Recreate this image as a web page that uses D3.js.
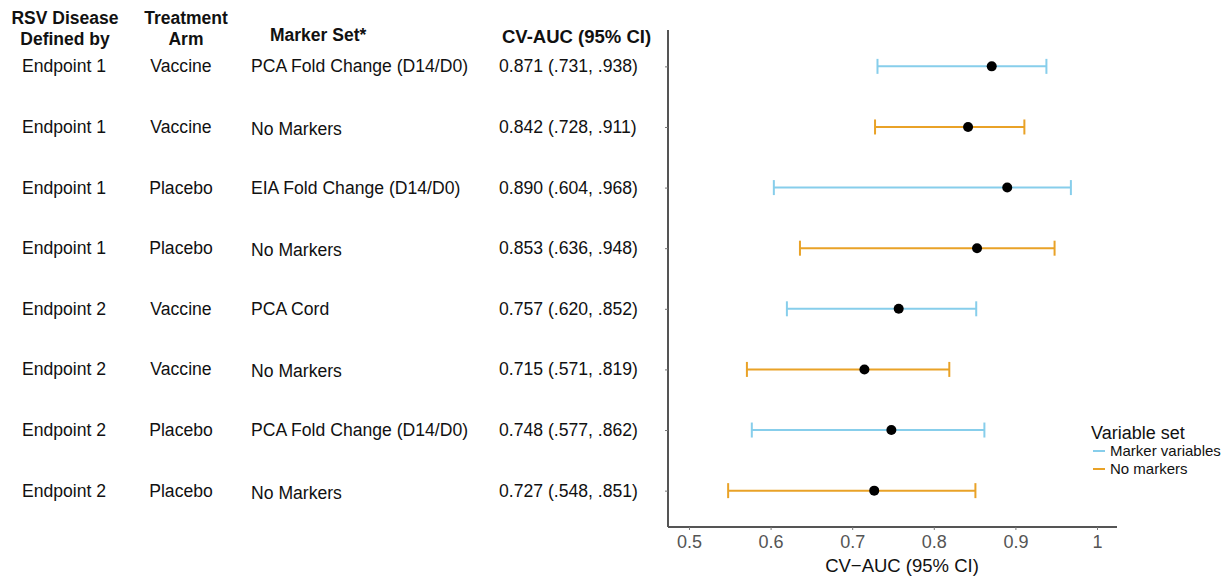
<!DOCTYPE html>
<html>
<head>
<meta charset="utf-8">
<script src="https://cdn.jsdelivr.net/npm/d3@7"></script>
<style>
body{margin:0;background:#fff;}
text{font-family:"Liberation Sans",Arial,sans-serif;}
</style>
</head>
<body>
<svg id="chart" width="1231" height="576"></svg>
<script>
// table columns
var endpoints=["Endpoint 1","Endpoint 1","Endpoint 1","Endpoint 1","Endpoint 2","Endpoint 2","Endpoint 2","Endpoint 2"];
var arms=["Vaccine","Vaccine","Placebo","Placebo","Vaccine","Vaccine","Placebo","Placebo"];
var markerSets=["PCA Fold Change (D14/D0)","No Markers","EIA Fold Change (D14/D0)","No Markers","PCA Cord","No Markers","PCA Fold Change (D14/D0)","No Markers"];
// estimates and CI
var auc=[0.871,0.842,0.890,0.853,0.757,0.715,0.748,0.727];
var lower=[0.731,0.728,0.604,0.636,0.620,0.571,0.577,0.548];
var upper=[0.938,0.911,0.968,0.948,0.852,0.819,0.862,0.851];
var varSet=["Marker variables","No markers","Marker variables","No markers","Marker variables","No markers","Marker variables","No markers"];
var xTicks=[0.5,0.6,0.7,0.8,0.9,1];
var legendKeys=["Marker variables","No markers"];

var colour=d3.scaleOrdinal().domain(legendKeys).range(["#87ceeb","#e9a227"]);

var svg=d3.select("#chart");
var pLeft=668,pRight=1117,pTop=30,pBottom=527;

var x=d3.scaleLinear().domain([0.4743,1.0245]).range([pLeft,pRight]);
var rows=d3.range(auc.length);
var y=d3.scalePoint().domain(rows).range([pTop,pBottom]).padding(0.6);

function fmt(v){return d3.format(".3f")(v).replace(/^0/,"");}

// header
var hdr=svg.append("g").attr("font-weight","bold").attr("font-size",17.5).attr("fill","#111");
hdr.append("text").attr("x",65).attr("y",24).attr("text-anchor","middle").text("RSV Disease");
hdr.append("text").attr("x",65).attr("y",45).attr("text-anchor","middle").text("Defined by");
hdr.append("text").attr("x",186).attr("y",24).attr("text-anchor","middle").text("Treatment");
hdr.append("text").attr("x",186).attr("y",45).attr("text-anchor","middle").text("Arm");
hdr.append("text").attr("x",270).attr("y",41).text("Marker Set*");
hdr.append("text").attr("x",502).attr("y",43).attr("font-size",18.5).text("CV-AUC (95% CI)");

// table rows
var tbl=svg.append("g").attr("font-size",17.6).attr("fill","#111");
rows.forEach(function(i){
	var yy=y(i)+6;
	tbl.append("text").attr("x",22).attr("y",yy).text(endpoints[i]);
	tbl.append("text").attr("x",181).attr("y",yy).attr("text-anchor","middle").text(arms[i]);
	tbl.append("text").attr("x",251).attr("y",yy+(markerSets[i]=="No Markers"?2:0)).text(markerSets[i]);
	tbl.append("text").attr("x",499).attr("y",yy).text(d3.format(".3f")(auc[i])+" ("+fmt(lower[i])+", "+fmt(upper[i])+")");
});

// axes
var yAxis=svg.append("g").attr("transform","translate("+pLeft+",0)")
	.call(d3.axisLeft(y).tickSize(3).tickFormat(""));
yAxis.select(".domain").attr("d","M0,"+pTop+"V"+pBottom).attr("stroke","#555").attr("stroke-width",2);
yAxis.selectAll(".tick line").attr("stroke","#777");

var xAxis=svg.append("g").attr("transform","translate(0,"+pBottom+")")
	.call(d3.axisBottom(x).tickValues(xTicks).tickSize(3).tickFormat(d3.format("")));
xAxis.select(".domain").attr("d","M"+pLeft+",0H"+pRight).attr("stroke","#555").attr("stroke-width",2);
xAxis.selectAll(".tick line").attr("stroke","#777");
xAxis.selectAll(".tick text").attr("font-size",18).attr("fill","#555").attr("dy","0.85em")
	.attr("font-family","Liberation Sans,Arial,sans-serif");

svg.append("text").attr("x",902).attr("y",572).attr("text-anchor","middle")
	.attr("font-size",18.5).attr("fill","#111").text("CV\u2212AUC (95% CI)");

// error bars
var bars=svg.append("g");
rows.forEach(function(i){
	var c=colour(varSet[i]),yy=y(i);
	bars.append("line").attr("x1",x(lower[i])).attr("x2",x(upper[i])).attr("y1",yy).attr("y2",yy)
		.attr("stroke",c).attr("stroke-width",2);
	[lower[i],upper[i]].forEach(function(v){
		bars.append("line").attr("x1",x(v)).attr("x2",x(v)).attr("y1",yy-7.5).attr("y2",yy+7.5)
			.attr("stroke",c).attr("stroke-width",2);
	});
	bars.append("circle").attr("cx",x(auc[i])).attr("cy",yy).attr("r",5).attr("fill","#000");
});

// legend
var lg=svg.append("g").attr("transform","translate(1091,0)");
lg.append("text").attr("x",0).attr("y",439).attr("font-size",18).attr("fill","#111").text("Variable set");
legendKeys.forEach(function(k,i){
	var yy=451+i*18;
	lg.append("line").attr("x1",2).attr("x2",14).attr("y1",yy).attr("y2",yy).attr("stroke",colour(k)).attr("stroke-width",2);
	lg.append("text").attr("x",19).attr("y",yy+5).attr("font-size",15).attr("fill","#111").text(k);
});
</script>
</body>
</html>
